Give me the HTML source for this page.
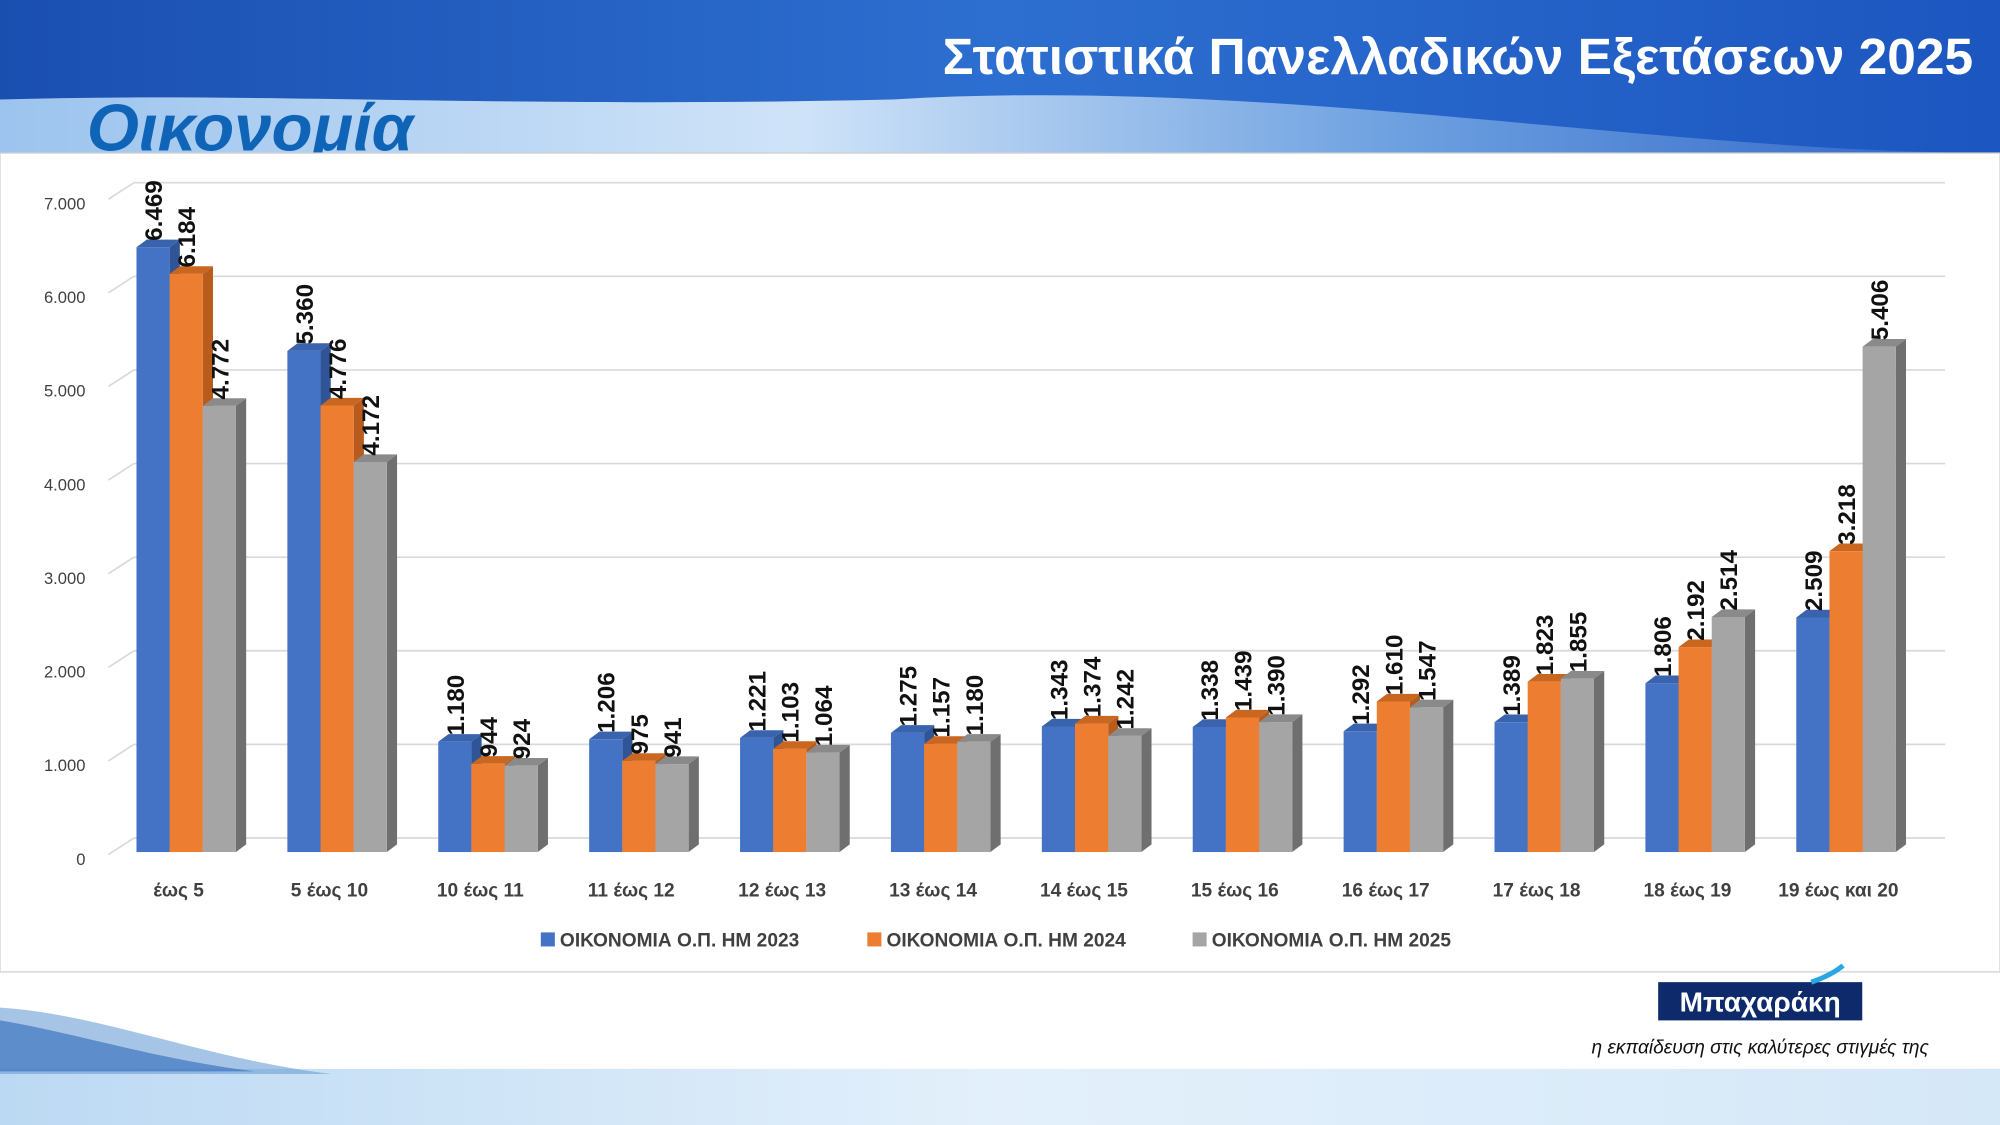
<!DOCTYPE html>
<html><head><meta charset="utf-8"><style>
html,body{margin:0;padding:0;width:2000px;height:1125px;overflow:hidden;background:#fff}
svg{display:block}
text{font-family:"Liberation Sans","DejaVu Sans",sans-serif}
</style></head><body>
<svg width="2000" height="1125" viewBox="0 0 1568 882" xmlns="http://www.w3.org/2000/svg">
<defs>
<linearGradient id="hdr" x1="0" y1="0" x2="1" y2="0">
<stop offset="0" stop-color="#1a4fb0"/><stop offset="0.5" stop-color="#2d6fd0"/><stop offset="1" stop-color="#1c56c0"/></linearGradient>
<linearGradient id="band" x1="0" y1="0" x2="1" y2="0">
<stop offset="0" stop-color="#9cc4ee"/><stop offset="0.4" stop-color="#cfe3f8"/><stop offset="0.7" stop-color="#6da0e0"/><stop offset="1" stop-color="#2c63c6"/></linearGradient>
<linearGradient id="bot" x1="0" y1="0" x2="1" y2="0">
<stop offset="0" stop-color="#bcd9f3"/><stop offset="0.5" stop-color="#e3f0fb"/><stop offset="1" stop-color="#d5e8f8"/></linearGradient>
</defs>
<rect x="0" y="0" width="1568" height="120" fill="url(#band)"/>
<path d="M0 0 H1568 V120 C1300 120 1000 60 700 78 C400 85 200 72 0 78 Z" fill="url(#hdr)"/>
<text x="1547" y="58" text-anchor="end" font-size="40" font-weight="bold" fill="#fff" textLength="808" lengthAdjust="spacingAndGlyphs">Στατιστικά Πανελλαδικών Εξετάσεων 2025</text>
<text x="68" y="118" font-size="52" font-weight="bold" font-style="italic" fill="#1064b8" textLength="256" lengthAdjust="spacingAndGlyphs">Οικονομία</text>
<rect x="0" y="120" width="1568" height="642" fill="#fff" stroke="#d0d0d0"/>
<rect x="0" y="838" width="1568" height="44" fill="url(#bot)"/>
<path d="M0 790 C80 795 160 830 260 842 L0 842 Z" fill="#6a9fd6" opacity="0.6"/>
<path d="M0 800 C60 810 120 830 200 840 L0 840 Z" fill="#2d67b8" opacity="0.6"/>
<rect x="1300" y="770" width="160" height="30" fill="#0e2a6b"/>
<text x="1380" y="793" text-anchor="middle" font-size="22" font-weight="bold" fill="#fff">Μπαχαράκη</text>
<path d="M1420 770 Q1435 765 1445 757" stroke="#2aa7e0" stroke-width="4" fill="none"/>
<text x="1380" y="826" text-anchor="middle" font-size="15" font-style="italic" fill="#111">η εκπαίδευση στις καλύτερες στιγμές της</text>
<g id="chart"></g>
</svg>
<script>
const NS="http://www.w3.org/2000/svg";
const g=document.getElementById('chart');
function el(t,a,txt){const e=document.createElementNS(NS,t);for(const k in a)e.setAttribute(k,a[k]);if(txt!==undefined)e.textContent=txt;g.appendChild(e);return e;}
const base=668,k=0.0733,dx=8,dy=6;
for(let i=0;i<=7;i++){const yb=657-i*73.4;
 el('line',{x1:105,y1:yb,x2:1525,y2:yb,stroke:'#d9d9d9','stroke-width':1.3});
 el('line',{x1:85,y1:yb+13,x2:105,y2:yb,stroke:'#d9d9d9','stroke-width':1.3});
 el('text',{x:67,y:yb+21,'text-anchor':'end','font-size':13,fill:'#404040'},i==0?'0':i+'.000');}
const cats=['έως 5','5 έως 10','10 έως 11','11 έως 12','12 έως 13','13 έως 14','14 έως 15','15 έως 16','16 έως 17','17 έως 18','18 έως 19','19 έως και 20'];
const d=[[6469,6184,4772],[5360,4776,4172],[1180,944,924],[1206,975,941],[1221,1103,1064],[1275,1157,1180],[1343,1374,1242],[1338,1439,1390],[1292,1610,1547],[1389,1823,1855],[1806,2192,2514],[2509,3218,5406]];
const col=[['#4472c4','#2f5597','#3a63ad'],['#ed7d31','#b85c1e','#c9661f'],['#a5a5a5','#6f6f6f','#8a8a8a']];
d.forEach((v,c)=>{const cx=140+c*118.3;
 el('text',{x:cx,y:703,'text-anchor':'middle','font-size':15,'font-weight':'bold',fill:'#404040'},cats[c]);
 v.forEach((val,s)=>{const x=cx-33+s*26,w=26,top=base-val*k;
  el('path',{d:`M${x+w} ${top} L${x+w+dx} ${top-dy} L${x+w+dx} ${base-dy} L${x+w} ${base} Z`,fill:col[s][1]});
  el('path',{d:`M${x} ${top} L${x+dx} ${top-dy} L${x+w+dx} ${top-dy} L${x+w} ${top} Z`,fill:col[s][2]});
  el('rect',{x:x,y:top,width:w,height:base-top,fill:col[s][0]});
  const lx=x+w/2+7,ly=top-5;
  el('text',{x:lx,y:ly,'font-size':19,'font-weight':'bold',fill:'#111',transform:`rotate(-90 ${lx} ${ly})`},val.toLocaleString('de-DE'));
 });});
const leg=[['ΟΙΚΟΝΟΜΙΑ Ο.Π. ΗΜ 2023',424],['ΟΙΚΟΝΟΜΙΑ Ο.Π. ΗΜ 2024',680],['ΟΙΚΟΝΟΜΙΑ Ο.Π. ΗΜ 2025',935]];
leg.forEach((l,i)=>{el('rect',{x:l[1],y:731,width:11,height:11,fill:col[i][0]});
 el('text',{x:l[1]+15,y:742,'font-size':15,'font-weight':'bold',fill:'#404040'},l[0]);});
</script>
</body></html>
